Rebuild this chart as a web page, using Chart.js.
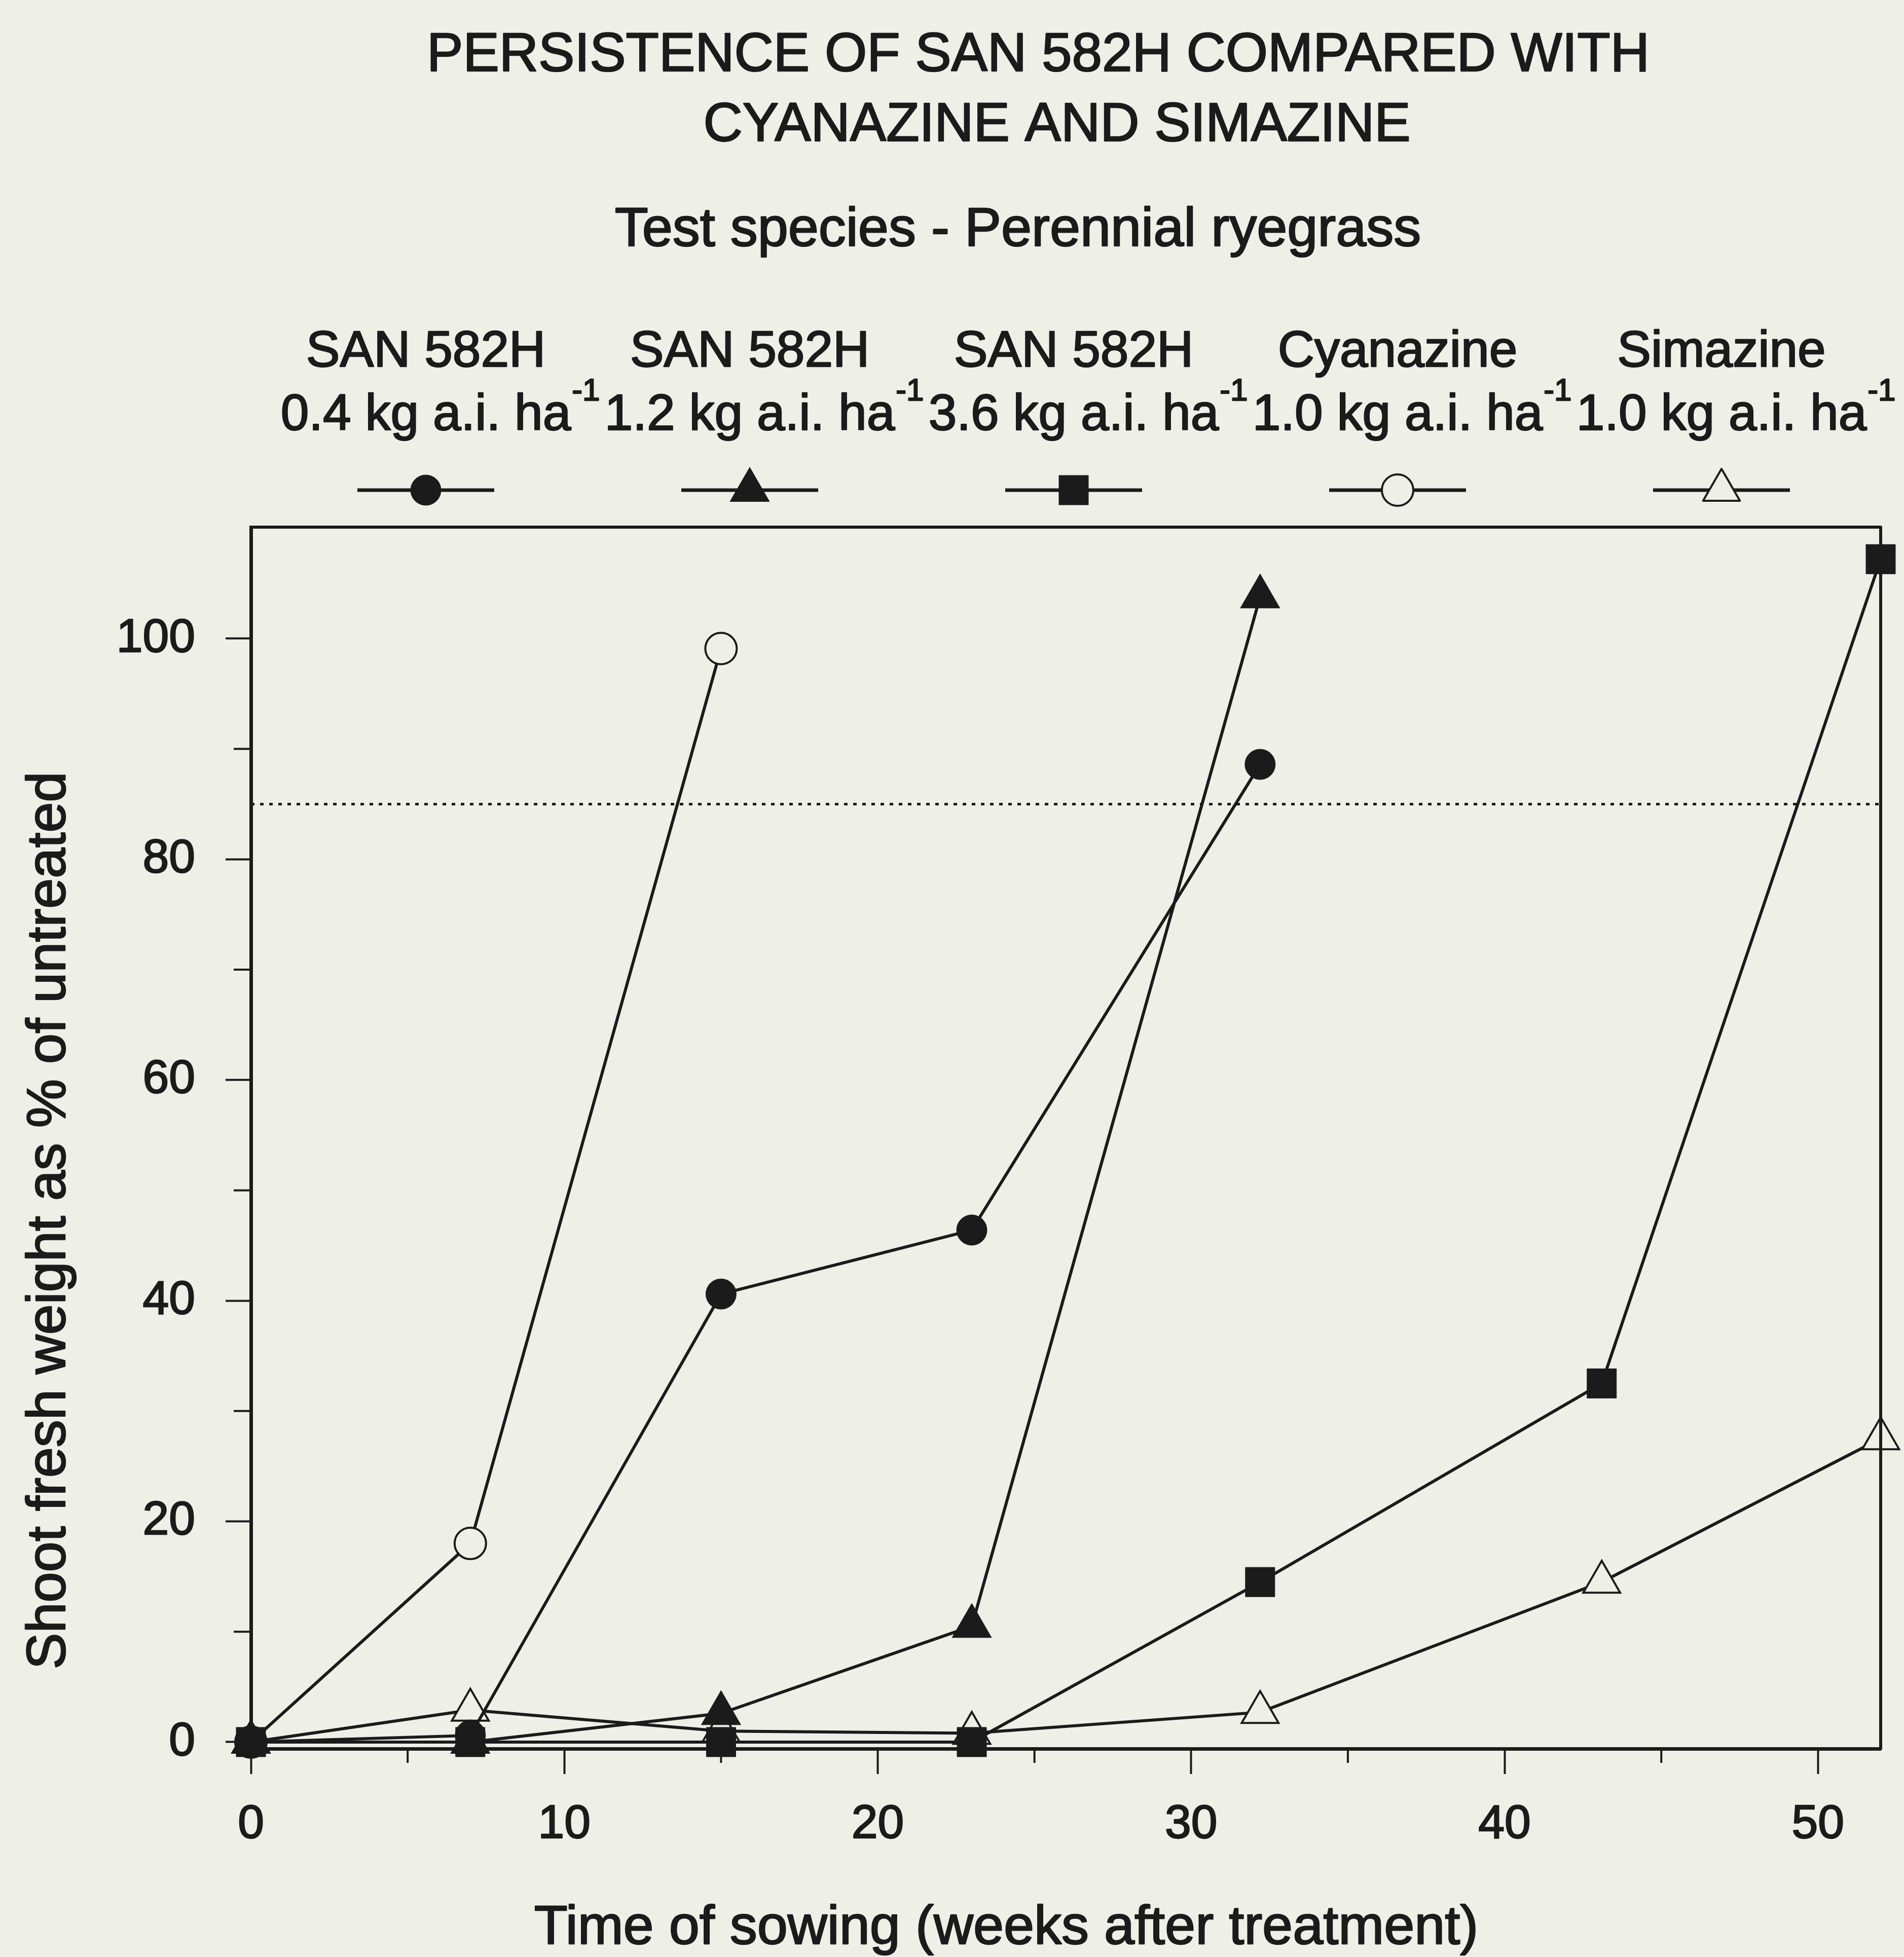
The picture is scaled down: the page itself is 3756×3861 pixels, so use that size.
<!DOCTYPE html>
<html>
<head>
<meta charset="utf-8">
<title>Persistence of SAN 582H</title>
<script src="https://cdn.jsdelivr.net/npm/chart.js@4.4.1/dist/chart.umd.min.js"></script>
<style>
  html, body { margin: 0; padding: 0; background: #eef0e8; }
  #wrap { width: 3756px; height: 3861px; position: relative; }
</style>
</head>
<body>
<div id="wrap"><canvas id="chart"></canvas></div>
<script>
/* ── Data ───────────────────────────────────────────────────────── */
const WEEKS = [0, 7, 15, 23, 32.2, 43.1, 52];
const SAN_04 = [0, 0.6, 40.6, 46.4, 88.6];
const SAN_12 = [0, 0, 2.6, 10.5, 103.8];
const SAN_36 = [0, 0, 0, 0, 14.5, 32.5, 107.2];
const CYANAZINE = [0, 18, 99.1];
const SIMAZINE = [0, 2.9, 1, 0.8, 2.7, 14.5, 27.5];
const THRESHOLD = 85;

const SERIES_NAMES = ['SAN 582H', 'SAN 582H', 'SAN 582H', 'Cyanazine', 'Simazine'];
const SERIES_DOSES = ['0.4 kg a.i. ha', '1.2 kg a.i. ha', '3.6 kg a.i. ha', '1.0 kg a.i. ha', '1.0 kg a.i. ha'];
const DOSE_EXP = '-1';

const X_MINOR = [5, 15, 25, 35, 45];
const Y_MINOR = [10, 30, 50, 70, 90];

const TITLE_LINES = ['PERSISTENCE OF SAN 582H COMPARED WITH', 'CYANAZINE AND SIMAZINE'];
const SUBTITLE = 'Test species - Perennial ryegrass';
const X_TITLE = 'Time of sowing (weeks after treatment)';
const Y_TITLE = 'Shoot fresh weight as % of untreated';

/* ── Styles ─────────────────────────────────────────────────────── */
const INK = '#1b1b1b';
const PAPER = '#eef0e8';
const FONT = '"Liberation Sans", Arial, Helvetica, sans-serif';
const TEXT_STROKE = 2.5;

const MARKERS = [
  { pointStyle: 'circle', radius: 30, fill: INK },
  { pointStyle: 'triangle', radius: 45, fill: INK },
  { pointStyle: 'rect', radius: 41, fill: INK },
  { pointStyle: 'circle', radius: 31, fill: PAPER },
  { pointStyle: 'triangle', radius: 42, fill: PAPER },
];

const toPoints = vals => vals.map((v, i) => ({ x: WEEKS[i], y: v }));

function seriesDataset(i, values) {
  const m = MARKERS[i];
  return {
    label: `${SERIES_NAMES[i]} ${SERIES_DOSES[i]}⁻¹`,
    data: toPoints(values),
    borderColor: INK,
    borderWidth: 6,
    pointStyle: m.pointStyle,
    pointRadius: m.radius,
    pointHoverRadius: m.radius,
    pointBackgroundColor: m.fill,
    pointBorderColor: INK,
    pointBorderWidth: m.fill === INK ? 1 : 4,
    tension: 0,
    clip: false,
  };
}

function heavyText(ctx, text, x, y) {
  ctx.lineWidth = TEXT_STROKE;
  ctx.strokeText(text, x, y);
  ctx.fillText(text, x, y);
}

/* ── Extra drawing: frame, minor ticks, titles, legend ──────────── */
const decorations = {
  id: 'decorations',
  afterDraw(chart) {
    const { ctx, chartArea: a, scales: { x, y } } = chart;
    ctx.save();
    ctx.strokeStyle = INK;
    ctx.fillStyle = INK;
    ctx.lineJoin = 'round';

    // frame (top & right sides)
    ctx.lineWidth = 6;
    ctx.strokeRect(a.left, a.top, a.right - a.left, a.bottom - a.top);

    // minor ticks
    ctx.lineWidth = 4;
    ctx.beginPath();
    X_MINOR.forEach(v => {
      const px = x.getPixelForValue(v);
      ctx.moveTo(px, a.bottom);
      ctx.lineTo(px, a.bottom + 28);
    });
    Y_MINOR.forEach(v => {
      const py = y.getPixelForValue(v);
      ctx.moveTo(a.left, py);
      ctx.lineTo(a.left - 34, py);
    });
    ctx.stroke();

    // titles
    ctx.textAlign = 'center';
    ctx.textBaseline = 'alphabetic';
    ctx.font = `107px ${FONT}`;
    heavyText(ctx, TITLE_LINES[0], 2048, 140);
    heavyText(ctx, TITLE_LINES[1], 2085, 278);
    ctx.font = `108px ${FONT}`;
    heavyText(ctx, SUBTITLE, 2008, 485);

    // axis titles
    ctx.font = `108px ${FONT}`;
    heavyText(ctx, X_TITLE, 1985, 3835);
    ctx.save();
    ctx.translate(128, 2408);
    ctx.rotate(-Math.PI / 2);
    heavyText(ctx, Y_TITLE, 0, 0);
    ctx.restore();

    // legend
    const step = 639;
    SERIES_NAMES.forEach((name, i) => {
      const cx = 840 + i * step;
      ctx.textAlign = 'center';
      ctx.font = `100px ${FONT}`;
      heavyText(ctx, name, cx, 723);
      const dose = SERIES_DOSES[i];
      const w = ctx.measureText(dose).width;
      heavyText(ctx, dose, cx, 848);
      ctx.textAlign = 'left';
      ctx.font = `62px ${FONT}`;
      heavyText(ctx, DOSE_EXP, cx + w / 2 + 2, 790);

      ctx.lineWidth = 7;
      ctx.beginPath();
      ctx.moveTo(cx - 135, 967);
      ctx.lineTo(cx + 135, 967);
      ctx.stroke();

      const m = MARKERS[i];
      ctx.fillStyle = m.fill;
      ctx.lineWidth = m.fill === INK ? 1 : 4;
      if (Chart.helpers && Chart.helpers.drawPoint) {
        Chart.helpers.drawPoint(ctx, { pointStyle: m.pointStyle, radius: m.radius, rotation: 0, borderWidth: ctx.lineWidth }, cx, 967);
      } else {
        ctx.beginPath();
        ctx.arc(cx, 967, m.radius, 0, Math.PI * 2);
        ctx.fill();
        ctx.stroke();
      }
      ctx.fillStyle = INK;
    });

    ctx.restore();
  },
};

/* ── Chart ──────────────────────────────────────────────────────── */
const ctx = document.getElementById('chart').getContext('2d');

const tickFont = { size: 93, family: FONT };

new Chart(ctx, {
  type: 'line',
  data: {
    datasets: [
      {
        label: '85% line',
        data: [{ x: 0, y: THRESHOLD }, { x: WEEKS[WEEKS.length - 1], y: THRESHOLD }],
        borderColor: INK,
        borderWidth: 5,
        borderDash: [7, 11],
        pointRadius: 0,
        tension: 0,
      },
      seriesDataset(0, SAN_04),
      seriesDataset(1, SAN_12),
      seriesDataset(2, SAN_36),
      seriesDataset(3, CYANAZINE),
      seriesDataset(4, SIMAZINE),
    ],
  },
  options: {
    responsive: true,
    maintainAspectRatio: false,
    animation: false,
    events: [],
    layout: { padding: { top: 1040, right: 36, left: 0, bottom: 0 } },
    plugins: {
      legend: { display: false },
      title: { display: false },
      tooltip: { enabled: false },
    },
    scales: {
      x: {
        type: 'linear',
        min: 0,
        max: 52,
        afterFit: s => { s.height = 411; },
        border: { display: true, color: INK, width: 7 },
        grid: { drawOnChartArea: false, drawTicks: true, tickLength: 50, tickWidth: 4, tickColor: INK },
        ticks: {
          stepSize: 10, includeBounds: false, padding: 45, maxRotation: 0,
          color: INK, textStrokeColor: INK, textStrokeWidth: TEXT_STROKE, font: tickFont,
        },
      },
      y: {
        type: 'linear',
        min: -0.6,
        max: 110.1,
        afterFit: s => { s.width = 495; },
        border: { display: true, color: INK, width: 7 },
        grid: { drawOnChartArea: false, drawTicks: true, tickLength: 50, tickWidth: 4, tickColor: INK },
        ticks: {
          stepSize: 20, includeBounds: false, padding: 60,
          color: INK, textStrokeColor: INK, textStrokeWidth: TEXT_STROKE, font: tickFont,
        },
      },
    },
  },
  plugins: [decorations],
});
</script>
</body>
</html>
